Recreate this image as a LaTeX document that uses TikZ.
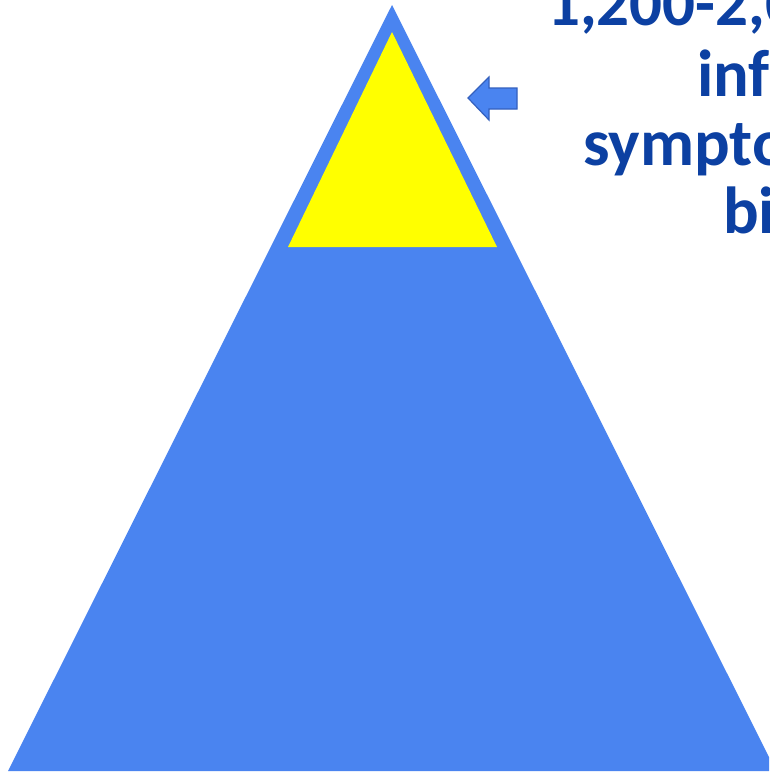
\documentclass[tikz,border=0pt]{standalone}
\usepackage{fontspec}
\setmainfont{Carlito}
\definecolor{pyrblue}{RGB}{74,132,240}
\definecolor{arrowedge}{RGB}{52,96,190}
\definecolor{txtblue}{RGB}{12,64,162}
\definecolor{tipyellow}{RGB}{255,255,0}
\tikzset{
  bigtri/.style={fill=pyrblue, draw=none},
  smalltri/.style={fill=tipyellow, draw=none},
  leftarrow/.style={fill=pyrblue, draw=arrowedge, line width=1.2pt, line join=miter},
  label/.style={anchor=base west, inner sep=0pt, text=txtblue, font=\fontsize{66.5}{73}\selectfont\bfseries}
}
\begin{document}
\begin{tikzpicture}[x=1pt,y=-1pt]
\useasboundingbox (0,0) rectangle (769,774);
\clip (0,0) rectangle (769,774);
\fill[white] (0,0) rectangle (769,774);
% pyramid
\coordinate (apex) at (392,5);
\coordinate (bl) at (8,771);
\coordinate (br) at (776,771);
\fill[bigtri] (apex) -- (bl) -- (br) -- cycle;
% yellow tip
\coordinate (yapex) at (392,32);
\coordinate (ybl) at (288,247);
\coordinate (ybr) at (497,247);
\fill[smalltri] (yapex) -- (ybl) -- (ybr) -- cycle;
% arrow
\draw[leftarrow] (468,98) -- (489,77) -- (489,88) -- (517,88) -- (517,109) -- (489,109) -- (489,120) -- cycle;
% text lines (cropped at right edge)
\node[label, font=\fontsize{65}{73}\selectfont\bfseries] (l1) at (547,25) {1,200-2,000};
\node[label] (l2) at (697,96) {infants};
\node[label] (l3) at (583,165) {symptomatic};
\node[label] (l4) at (723,233) {birth};
\end{tikzpicture}
\end{document}
